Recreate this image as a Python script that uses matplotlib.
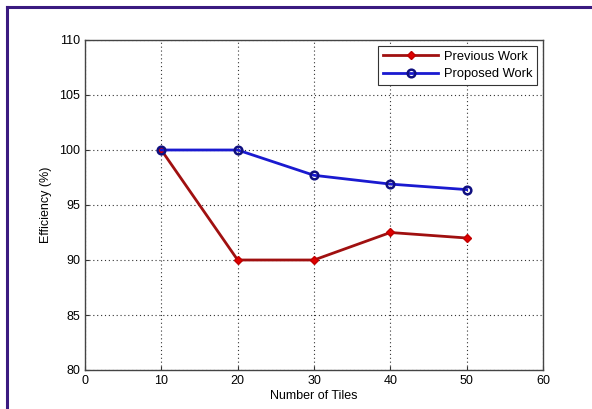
import matplotlib
matplotlib.use("Agg")
import matplotlib.pyplot as plt
from matplotlib.lines import Line2D

tiles = [10, 20, 30, 40, 50]
previous_work = [100, 90, 90, 92.5, 92.0]
proposed_work = [100, 100, 97.7, 96.9, 96.4]
x_ticks = [0, 10, 20, 30, 40, 50, 60]
y_ticks = [80, 85, 90, 95, 100, 105, 110]

plt.rcParams['font.family'] = ['Liberation Sans', 'DejaVu Sans']

fig = plt.figure(figsize=(5.92, 4.09), dpi=100)
ax = fig.add_axes([85/592, 1-370/409, (543-85)/592, (370-40)/409])

ax.plot(tiles, previous_work, color='#a01010', lw=2.0, marker='D', ms=4,
        markerfacecolor='#e00000', markeredgecolor='#c00000', label='Previous Work')
ax.plot(tiles, proposed_work, color='#1a1ad0', lw=2.0, marker='o', ms=5.5,
        markerfacecolor='none', markeredgecolor='#101080', markeredgewidth=1.8,
        label='Proposed Work')

ax.set_xlim(0, 60)
ax.set_ylim(80, 110)
ax.set_xticks(x_ticks)
ax.set_yticks(y_ticks)
ax.tick_params(direction='in', labelsize=9, length=3, color='#333333')
ax.grid(True, linestyle=(0, (1, 2.5)), color='#333333', linewidth=0.8)
for s in ax.spines.values():
    s.set_color('#444444')
    s.set_linewidth(1.0)
ax.set_xlabel('Number of Tiles', fontsize=9, labelpad=2)
ax.set_ylabel('Efficiency (%)', fontsize=9, labelpad=5)

leg = ax.legend(loc='upper right', fontsize=9.3, frameon=True, fancybox=False,
                edgecolor='#333333', framealpha=1, borderaxespad=0.45,
                handlelength=4.3, handletextpad=0.4, borderpad=0.4, labelspacing=0.4)
leg.get_frame().set_linewidth(0.8)

# purple frame of the original screenshot
fig.add_artist(Line2D([7/592, 7/592], [0, 1-7/409], transform=fig.transFigure,
                      color='#3a1a80', lw=2.2))
fig.add_artist(Line2D([7/592, 1], [1-7/409, 1-7/409], transform=fig.transFigure,
                      color='#3a1a80', lw=2.2))

fig.savefig('out.png', dpi=100)
